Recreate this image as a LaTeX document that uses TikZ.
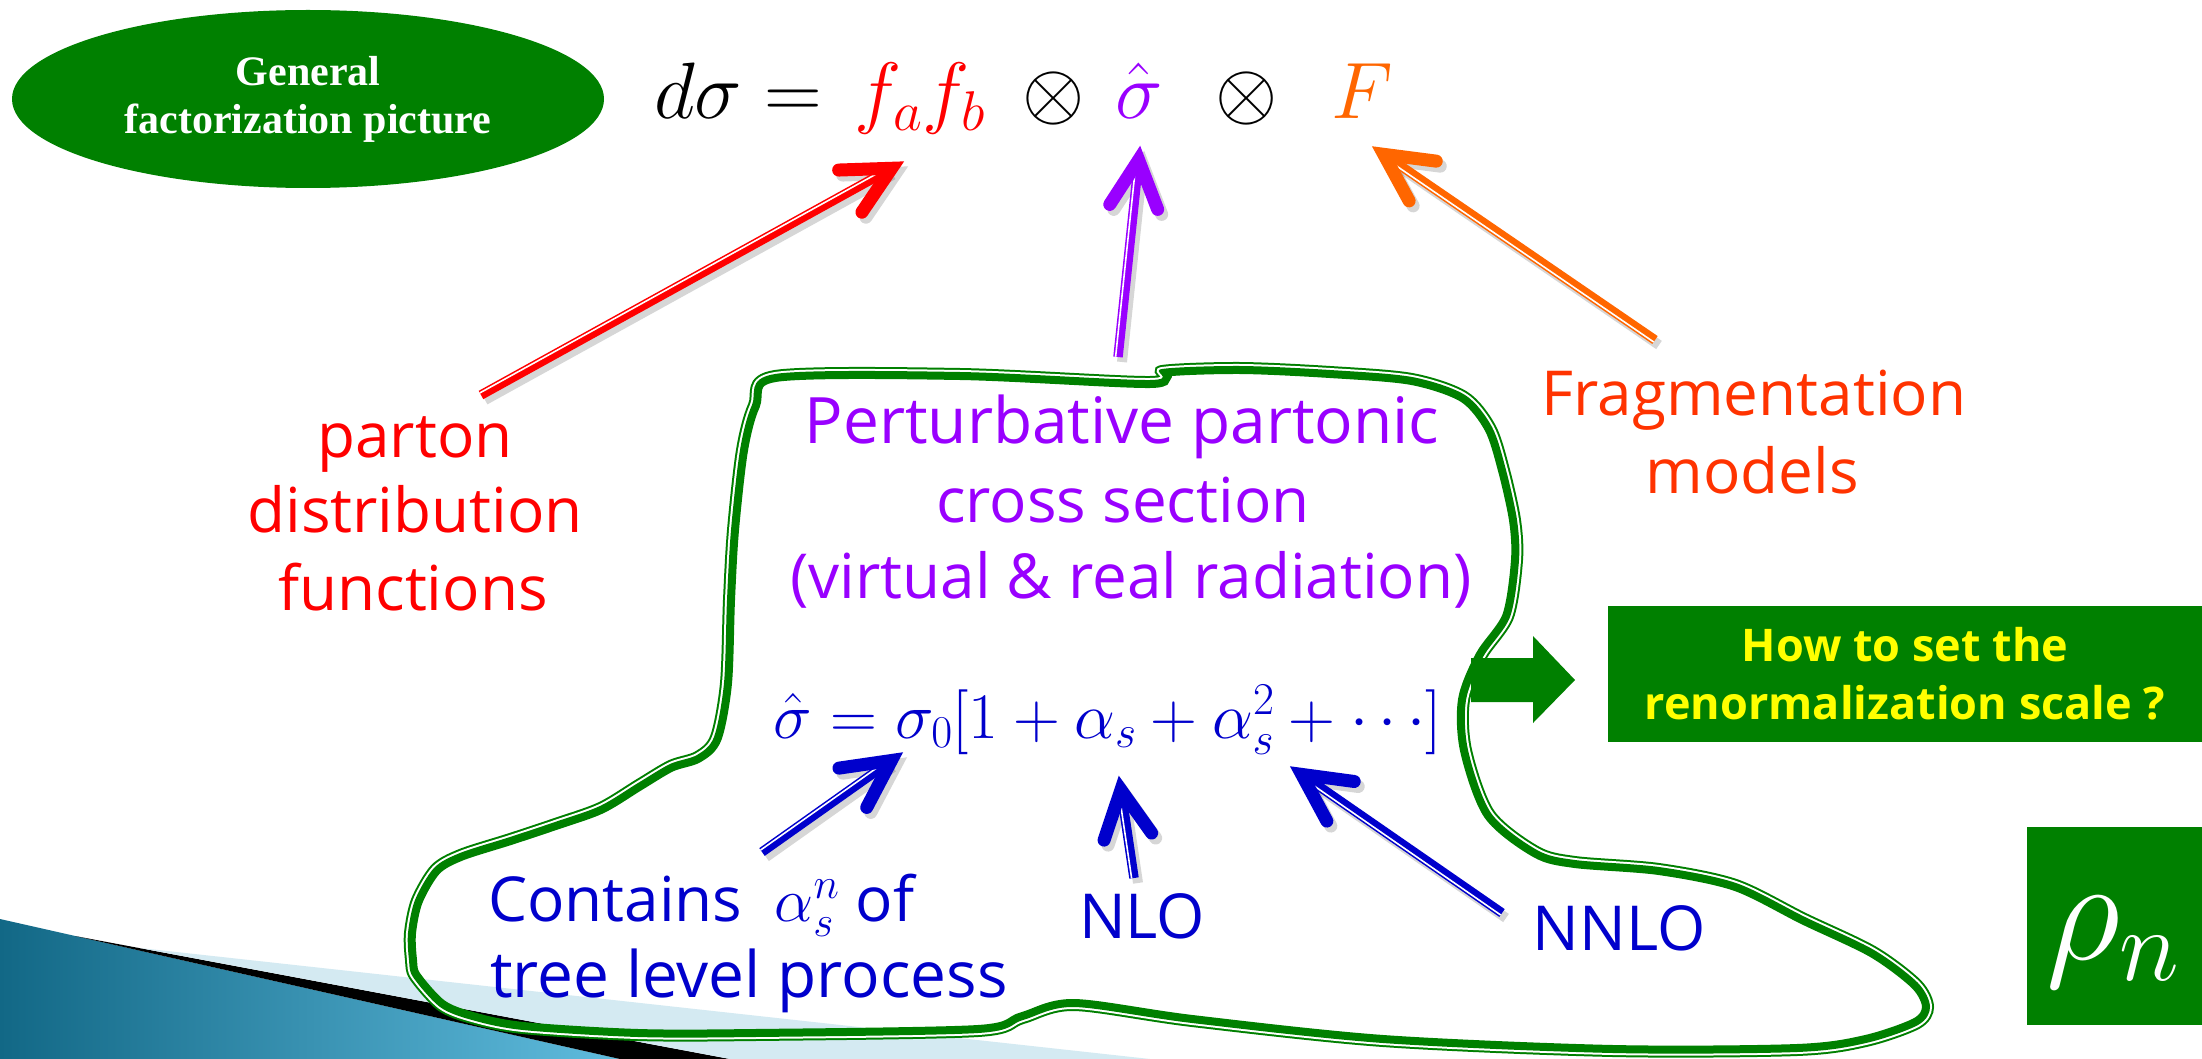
\RequirePackage{fix-cm}
\documentclass[tikz,border=0pt]{standalone}
\usepackage[no-math]{fontspec}
\setmainfont{Open Sans}
\newfontfamily\timesb{Liberation Serif}
\usetikzlibrary{calc,shapes.geometric}

\definecolor{dgreen}{RGB}{0,128,0}
\definecolor{pred}{RGB}{255,0,0}
\definecolor{ppurple}{RGB}{153,0,255}
\definecolor{porange}{RGB}{255,102,0}
\definecolor{frag}{RGB}{255,51,0}
\definecolor{pblue}{RGB}{0,0,204}
\definecolor{pyellow}{RGB}{255,255,0}
\definecolor{tealD}{RGB}{18,104,134}
\definecolor{tealL}{RGB}{96,188,222}
\definecolor{lblue}{RGB}{212,234,242}

\tikzset{
  lbl/.style={inner sep=0pt, anchor=base, font=\fontsize{62}{76}\selectfont},
  eqn/.style={inner sep=0pt, anchor=base, font=\fontsize{80}{96}\selectfont},
  beqn/.style={inner sep=0pt, anchor=base, font=\fontsize{65}{76}\selectfont, text=pblue},
  gbox/.style={fill=dgreen, inner sep=0pt, draw=none},
}

\newcommand\fatarrow[3]{%
  \coordinate (fV) at ($(#3)!13pt!(#2)$);
  \coordinate (fS) at ($(#3)!16pt!(#2)$);
  \begin{scope}[transform canvas={shift={(4,5)}}, opacity=0.16]
    \draw[black, line width=10pt] (#2) -- (fS);
    \draw[black, line width=13pt, line cap=round, miter limit=10]
      ($(fV)!53pt!27:(#2)$) -- (fV) -- ($(fV)!53pt!-27:(#2)$);
  \end{scope}
  \draw[#1, line width=9.5pt] (#2) -- (fS);
  \draw[white, line width=1.6pt] ($(#2)!2.4pt!90:(#3)$) -- ($(fS)!2.4pt!-90:(#2)$);
  \draw[#1, line width=13pt, line cap=round, line join=miter, miter limit=10]
    ($(fV)!53pt!27:(#2)$) -- (fV) -- ($(fV)!53pt!-27:(#2)$);
}

\def\blobpath{plot[smooth cycle, tension=0.5] coordinates {
 (775,374) (960,372) (1150,380) (1162,369) (1240,366) (1330,370) (1412,377)
 (1465,395) (1492,427) (1506,470) (1517,520) (1519,560) (1510,617) (1483,657)
 (1466,700) (1468,750) (1491,813) (1537,850) (1575,860) (1659,867) (1736,883)
 (1805,917) (1874,950) (1918,983) (1930,1007) (1918,1025) (1866,1043) (1797,1052)
 (1613,1053) (1383,1043) (1192,1023) (1074,1007) (1023,1020) (978,1033) (755,1037)
 (638,1037) (523,1030) (472,1020) (440,1007) (413,977) (409,960) (408,933) (415,900)
 (434,868) (460,853) (510,837) (555,822) (600,806) (638,783) (670,764) (697,755)
 (714,737) (724,683) (727,600) (731,530) (740,450) (752,405)}}

\begin{document}
\begin{tikzpicture}[x=1pt,y=-1pt]
\useasboundingbox (0,0) rectangle (2202,1059);
\fill[white] (0,0) rectangle (2202,1059);

% corner decoration
\shade[left color=tealD, right color=tealL] (0,919) -- (620,1059) -- (0,1059) -- cycle;
\fill[black] (75,936) -- (730,1059) -- (620,1059) -- cycle;
\fill[lblue] (140,948) -- (1150,1059) -- (730,1059) -- cycle;

% blob outline: thick inner line, white gap, thin outer line
\draw[dgreen, line width=8pt] \blobpath;
\draw[white, line width=4pt] \blobpath;
\begin{scope}
  \clip \blobpath;
  \draw[dgreen, line width=16pt] \blobpath;
\end{scope}

% title ellipse
\node[ellipse, fill=dgreen, minimum width=592pt, minimum height=178pt, inner sep=0pt,
      text=white, align=center, font=\timesb\bfseries\fontsize{42}{48}\selectfont]
      (gen) at (308,99) {General\\factorization picture};

% top equation
\node[eqn] (dsig) at (738,119) {$d\sigma =$};
\node[eqn, text=pred] (fab) at (920,119) {$f_a f_b$};
\node[eqn] (ox1) at (1054,119) {$\otimes$};
\node[eqn, text=ppurple] (shat) at (1139,119) {$\hat\sigma$};
\node[eqn] (ox2) at (1247,119) {$\otimes$};
\node[eqn, text=porange] (FF) at (1362,119) {$F$};

% labels
\node[lbl, text=pred] (pdf1) at (415,457) {parton};
\node[lbl, text=pred] (pdf2) at (415,532) {distribution};
\node[lbl, text=pred] (pdf3) at (413,610) {functions};

\node[lbl, text=frag] (fr1) at (1754,415) {Fragmentation};
\node[lbl, text=frag] (fr2) at (1752,493) {models};

\node[lbl, text=ppurple, font=\fontsize{64}{76}\selectfont] (pp1) at (1122,443) {Perturbative partonic};
\node[lbl, text=ppurple] (pp2) at (1123,522) {cross section};
\node[lbl, text=ppurple] (pp3) at (1131,598) {(virtual \& real radiation)};

\node[beqn] (beq) at (1108,738) {$\hat\sigma = \sigma_0[1+\alpha_s+\alpha_s^2+\cdots]$};

\node[lbl, anchor=base west, text=pblue] (con1) at (488,921) {Contains~~$\alpha_s^n$ of};
\node[lbl, anchor=base west, text=pblue, font=\fontsize{64}{76}\selectfont] (con2) at (490,997) {tree level process};
\node[lbl, text=pblue] (nlo) at (1142,938) {NLO};
\node[lbl, text=pblue] (nnlo) at (1619,950) {NNLO};

% boxes
\fill[dgreen] (1471,658) -- (1533,658) -- (1533,636) -- (1575,680) -- (1533,723)
  -- (1533,702) -- (1471,702) -- cycle;
\node[gbox, minimum width=594pt, minimum height=136pt, text=pyellow, align=center,
      font=\bfseries\fontsize{45}{58}\selectfont]
      (q) at (1905,674) {How to set the\\renormalization scale ?};
\node[gbox, minimum width=175pt, minimum height=198pt] (rhobox) at (2114.5,926) {};
\node[inner sep=0pt, anchor=base west, text=white, font=\fontsize{146}{150}\selectfont]
      (rho) at (2046,959) {$\rho_n$};

% arrow end points
\coordinate (pdfT) at (481,395);   \coordinate (pdfH) at (903,162);
\coordinate (sigT) at (1118,357);  \coordinate (sigH) at (1140,147);
\coordinate (frT) at (1655,340);   \coordinate (frH) at (1373,147);
\coordinate (conT) at (762,852);   \coordinate (conH) at (902,753);
\coordinate (nloT) at (1134,878);  \coordinate (nloH) at (1119,777);
\coordinate (nnloT) at (1502,913); \coordinate (nnloH) at (1291,767);

\fatarrow{pred}{pdfT}{pdfH}
\fatarrow{ppurple}{sigT}{sigH}
\fatarrow{porange}{frT}{frH}
\fatarrow{pblue}{conT}{conH}
\fatarrow{pblue}{nloT}{nloH}
\fatarrow{pblue}{nnloT}{nnloH}
\end{tikzpicture}
\end{document}
